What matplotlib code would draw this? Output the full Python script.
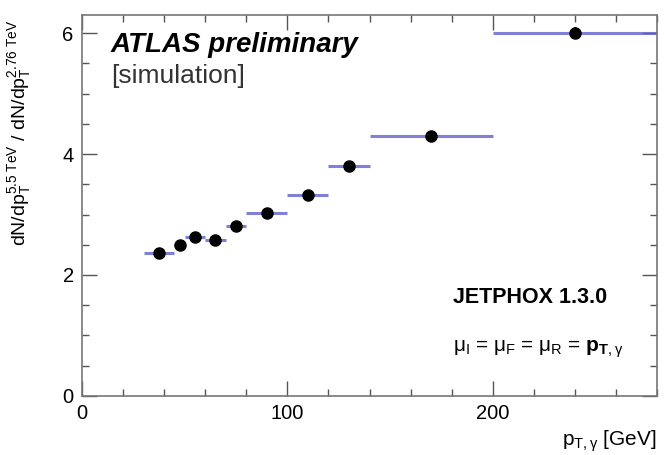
import numpy as np
import matplotlib
matplotlib.use("Agg")
import matplotlib.pyplot as plt
from matplotlib.ticker import MultipleLocator

plt.rcParams['font.family'] = ['Liberation Sans', 'DejaVu Sans']
plt.rcParams['mathtext.fontset'] = 'custom'
plt.rcParams['mathtext.rm'] = 'Liberation Sans'
plt.rcParams['mathtext.it'] = 'Liberation Sans'
plt.rcParams['mathtext.bf'] = 'Liberation Sans:bold'

# bin edges in pT (GeV) and the ratio in each bin
bin_lo = [30, 45, 50, 60, 70, 80, 100, 120, 140, 200]
bin_hi = [45, 50, 60, 70, 80, 100, 120, 140, 200, 280]
ratio = [2.36, 2.50, 2.63, 2.57, 2.81, 3.03, 3.32, 3.80, 4.30, 6.01]
ratio_err = [0.04, 0.04, 0.04, 0.04, 0.04, 0.05, 0.05, 0.08, 0.05, 0.09]

lo = np.array(bin_lo, dtype=float)
hi = np.array(bin_hi, dtype=float)
y = np.array(ratio)
xc = 0.5 * (lo + hi)

fig = plt.figure(figsize=(6.64, 4.55), dpi=100)
ax = fig.add_axes([0.1235, 0.13, 0.866, 0.837])

# blue bin lines
ax.hlines(y, lo, hi, color='#6060d0', lw=2.2, alpha=0.8, zorder=2)
# black points with small errors
ax.errorbar(xc, y, yerr=ratio_err, fmt='o', color='black', ms=8,
            elinewidth=1.6, capsize=0, zorder=3)

ax.set_xlim(0, 280)
ax.set_ylim(0, 6.3)
ax.xaxis.set_major_locator(MultipleLocator(100))
ax.xaxis.set_minor_locator(MultipleLocator(20))
ax.yaxis.set_major_locator(MultipleLocator(2))
ax.yaxis.set_minor_locator(MultipleLocator(0.5))
ax.tick_params(which='both', direction='in', top=True, right=True,
               labelsize=14.5, color='#555555', pad=6)
ax.tick_params(which='major', length=11, width=1)
ax.tick_params(which='minor', length=5, width=1)
for s in ax.spines.values():
    s.set_color('#777777')
    s.set_linewidth(1.2)

ax.set_ylabel(r'dN/dp$_\mathrm{T}^{5.5\ \mathrm{TeV}}$ / dN/dp$_\mathrm{T}^{2.76\ \mathrm{TeV}}$',
              fontsize=14)
ax.yaxis.set_label_coords(-0.085, 0.69)
ax.set_xlabel(r'p$_{\mathrm{T},\gamma}$ [GeV]', fontsize=15, loc='right')

ax.text(0.05, 0.92, 'ATLAS preliminary', transform=ax.transAxes,
        fontsize=20, fontweight='bold', fontstyle='italic', va='center')
ax.text(0.05, 0.84, '[simulation]', transform=ax.transAxes,
        fontsize=19, va='center', color='#333333')
ax.text(0.645, 0.257, 'JETPHOX 1.3.0', transform=ax.transAxes,
        fontsize=15.5, fontweight='bold', va='center')
ax.text(0.645, 0.123, r'$\mu_\mathrm{I}$ = $\mu_\mathrm{F}$ = $\mu_\mathrm{R}$ = $\mathbf{p}_{\mathbf{T},\gamma}$',
        transform=ax.transAxes, fontsize=15, va='center')

fig.savefig('out.png', dpi=100)
